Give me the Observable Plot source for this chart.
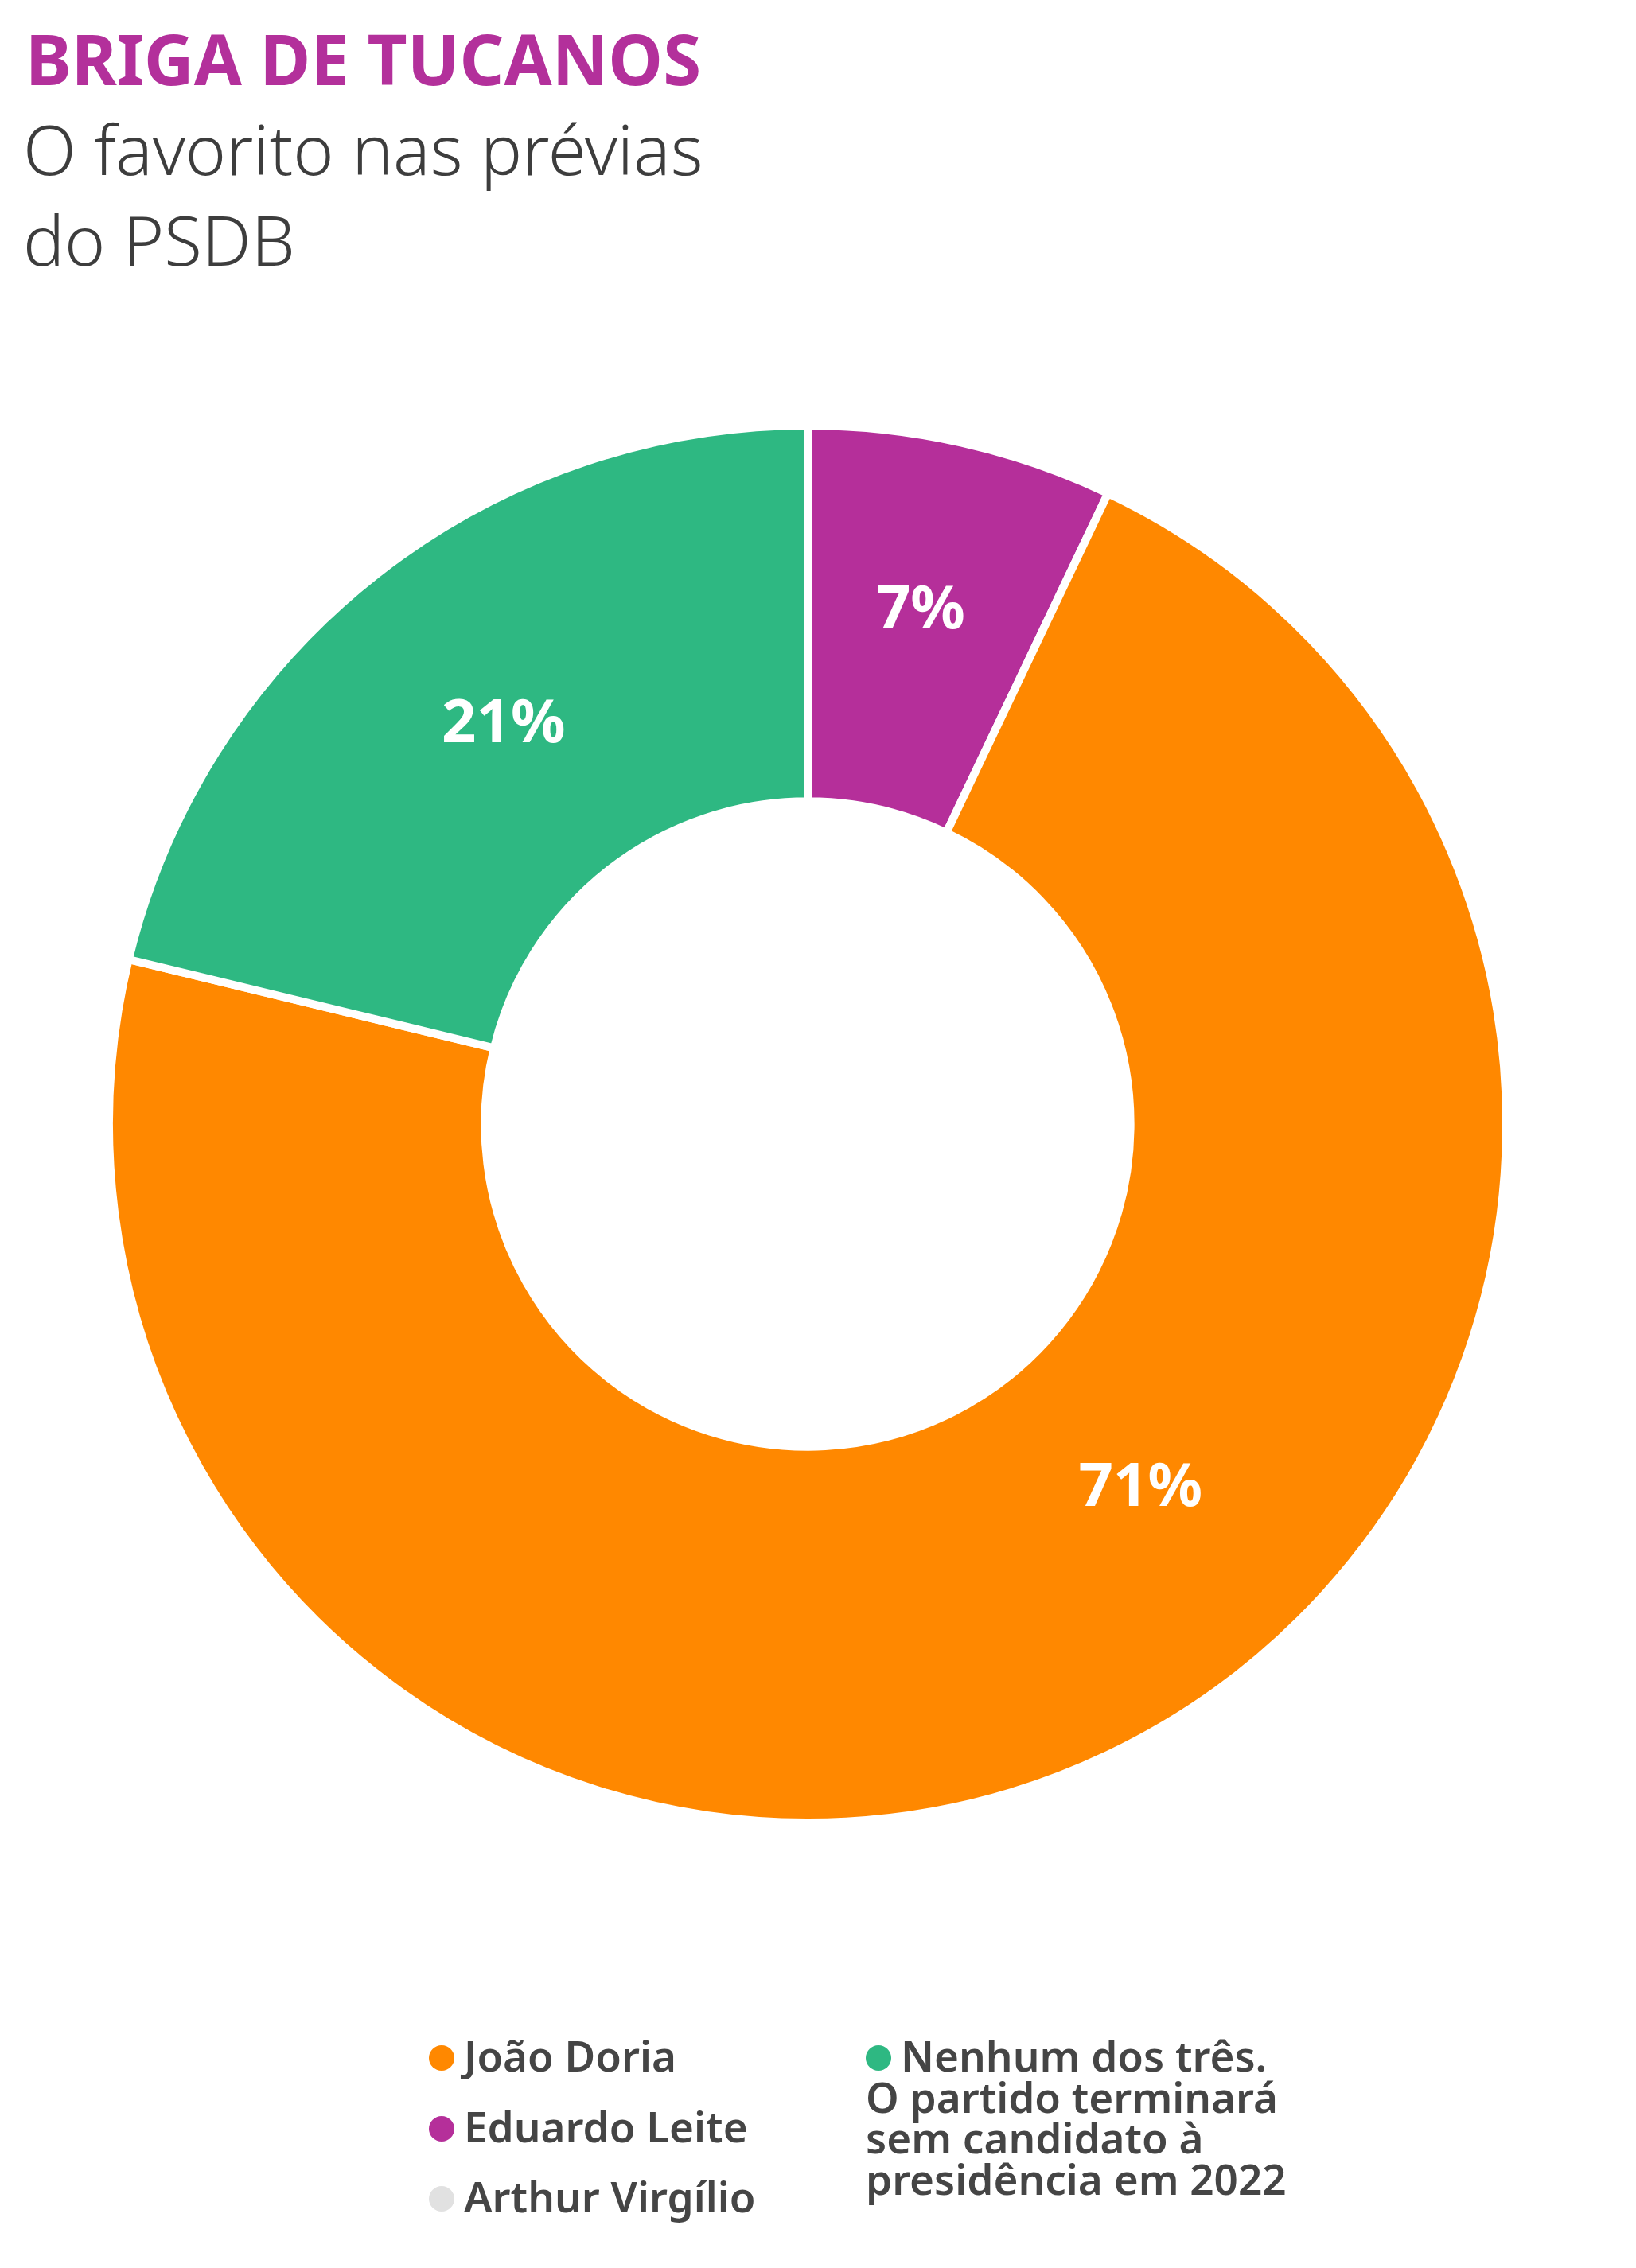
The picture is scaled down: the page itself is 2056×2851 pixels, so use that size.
<!DOCTYPE html>
<html>
<head>
<meta charset="utf-8">
<script src="https://cdn.jsdelivr.net/npm/d3@7"></script>
<script src="https://cdn.jsdelivr.net/npm/@observablehq/plot@0.6"></script>
<style>
  body { margin: 0; background: #fff; font-family: "Noto Sans", sans-serif; }
  #page { position: relative; width: 2056px; height: 2851px; }
  #title { position: absolute; left: 32px; top: 30px; font-size: 87px; font-weight: 700; color: #b3309b; line-height: 1; white-space: nowrap; }
  #subtitle { position: absolute; left: 29px; top: 129px; font-size: 87px; font-weight: 300; color: #3d3d3d; line-height: 114px; white-space: pre-line; }
  #chart { position: absolute; left: 0; top: 400px; }
  .item { position: absolute; font-size: 53px; font-weight: 600; color: #454545; line-height: 51.5px; white-space: pre-line; }
  .dot { display: inline-block; width: 32px; height: 32px; border-radius: 50%; margin-right: 12px; vertical-align: 1px; }
</style>
</head>
<body>
<div id="page">
  <div id="title">BRIGA DE TUCANOS</div>
  <div id="subtitle">O favorito nas prévias
do PSDB</div>
  <div id="chart"></div>
  <div id="legend"></div>
</div>
<script>
// dados (ordem das fatias, sentido horário a partir do topo)
const candidatos = ["Eduardo Leite", "João Doria", "Nenhum dos três", "Arthur Virgílio"];
const percentuais = [7, 71, 21, 0];
const rotulos = ["7%", "71%", "21%", ""];
const cores = ["#b52f9a", "#ff8800", "#2eb882", "#e1e1e1"];

// legenda
const legendaOrdem = ["João Doria", "Eduardo Leite", "Arthur Virgílio", "Nenhum dos três"];
const legendaTextos = ["João Doria", "Eduardo Leite", "Arthur Virgílio", "Nenhum dos três.\nO partido terminará\nsem candidato à\npresidência em 2022"];

const raioInterno = 0.462;

const dados = candidatos.map((c, i) => ({candidato: c, valor: percentuais[i], rotulo: rotulos[i], cor: cores[i]}));
const fatias = d3.pie().sort(null).value(d => d.valor)(dados);

const meio = (1 + raioInterno) / 2;
const centros = fatias.map(f => {
  const a = (f.startAngle + f.endAngle) / 2;
  return {...f.data, x: Math.sin(a) * meio, y: Math.cos(a) * meio};
});

function rosca(index, scales) {
  const cx = scales.x(0), cy = scales.y(0);
  const R = scales.x(1) - cx;
  const arc = d3.arc().innerRadius(R * raioInterno).outerRadius(R);
  const g = d3.create("svg:g").attr("transform", `translate(${cx},${cy})`);
  g.selectAll("path")
    .data(fatias)
    .join("path")
      .attr("d", arc)
      .attr("fill", d => d.data.cor)
      .attr("stroke", "#fff")
      .attr("stroke-width", 10);
  return g.node();
}

const fonteRotulo = {x: "x", y: "y", text: "rotulo", fill: "white", fontSize: 76, fontWeight: 700, fontFamily: "Noto Sans"};
// rótulo de cada fatia, com pequeno deslocamento como no original
const rotulo = (nome, dx, dy) => Plot.text(centros.filter(d => d.candidato === nome), {...fonteRotulo, dx, dy});

let chart = Plot.plot({
  width: 2056,
  height: 2000,
  marginLeft: 137,
  marginRight: 163,
  marginTop: 135,
  marginBottom: 109,
  x: {domain: [-1, 1], axis: null},
  y: {domain: [-1, 1], axis: null},
  style: {background: "transparent", overflow: "visible"},
  marks: [
    rosca,
    rotulo("Eduardo Leite", 0, -22),
    rotulo("Nenhum dos três", 14, 0),
    rotulo("João Doria", 142, -124)
  ]
});

d3.select('#chart').append(() => chart);

// legenda em HTML abaixo do SVG
const posicoes = [[539, 2558], [539, 2647], [539, 2735], [1088, 2558]];
const legenda = d3.select('#legend');
legendaOrdem.forEach((nome, i) => {
  const d = dados.find(x => x.candidato === nome);
  const item = legenda.append("div").attr("class", "item")
    .style("left", posicoes[i][0] + "px").style("top", posicoes[i][1] + "px");
  item.append("span").attr("class", "dot").style("background", d.cor);
  item.append("span").text(legendaTextos[i]);
});
</script>
</body>
</html>
